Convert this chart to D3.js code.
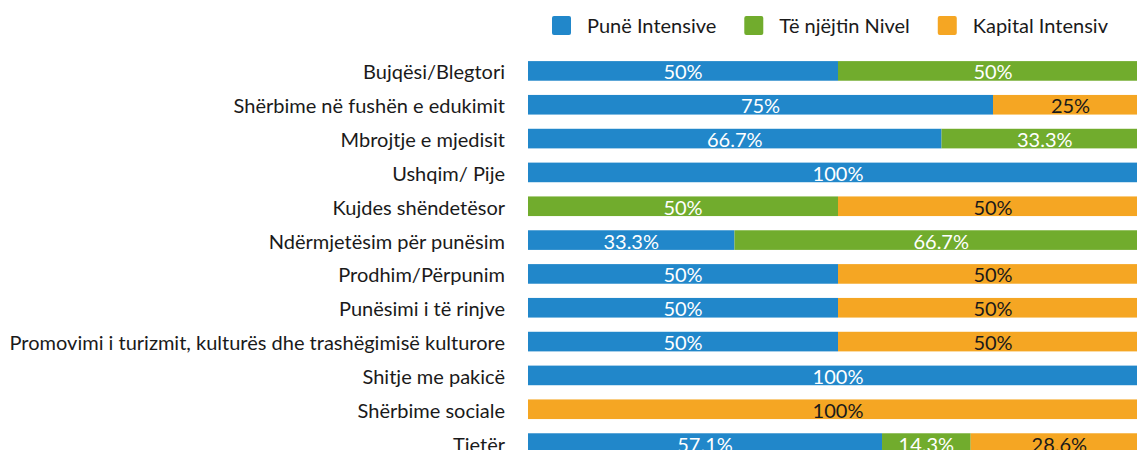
<!DOCTYPE html>
<html>
<head>
<meta charset="utf-8">
<script src="https://cdn.jsdelivr.net/npm/d3@7"></script>
<style>
  html, body { margin: 0; padding: 0; background: #fff; }
  svg { display: block; font-family: Lato, "Open Sans", sans-serif; }
</style>
</head>
<body>
<svg id="chart" width="1137" height="450"></svg>
<script>
const categories = [
  "Bujqësi/Blegtori",
  "Shërbime në fushën e edukimit",
  "Mbrojtje e mjedisit",
  "Ushqim/ Pije",
  "Kujdes shëndetësor",
  "Ndërmjetësim për punësim",
  "Prodhim/Përpunim",
  "Punësimi i të rinjve",
  "Promovimi i turizmit, kulturës dhe trashëgimisë kulturore",
  "Shitje me pakicë",
  "Shërbime sociale",
  "Tjetër"
];
const seriesNames = ["Punë Intensive", "Të njëjtin Nivel", "Kapital Intensiv"];
const puneIntensive   = [50, 75, 66.7, 100, 0, 33.3, 50, 50, 50, 100, 0, 57.1];
const njejtinNivel    = [50, 0, 33.3, 0, 50, 66.7, 0, 0, 0, 0, 0, 14.3];
const kapitalIntensiv = [0, 25, 0, 0, 50, 0, 50, 50, 50, 0, 100, 28.6];
const seriesValues = [puneIntensive, njejtinNivel, kapitalIntensiv];
const colors = ["#2187ca", "#71ac2d", "#f5a623"];
const labelColors = ["#ffffff", "#ffffff", "#1a1a1a"];
const FS = 20;

const svg = d3.select("#chart");

const x = d3.scaleLinear().domain([0, 100]).range([528, 1148]);
const y = d3.scaleBand().domain(categories).range([54, 460])
  .paddingInner(0.42).paddingOuter(0.21);

const rows = categories.map((c, i) => {
  let acc = 0;
  return seriesValues.map((vals, s) => {
    const seg = { cat: c, s, v: vals[i], x0: acc, x1: acc + vals[i] };
    acc += vals[i];
    return seg;
  }).filter(d => d.v > 0);
}).flat();

// bars
svg.append("g").selectAll("rect").data(rows).join("rect")
  .attr("x", d => x(d.x0))
  .attr("y", d => y(d.cat))
  .attr("width", d => x(d.x1) - x(d.x0))
  .attr("height", y.bandwidth())
  .attr("fill", d => colors[d.s]);

// value labels
svg.append("g").selectAll("text").data(rows).join("text")
  .attr("x", d => (x(d.x0) + x(d.x1)) / 2)
  .attr("y", d => y(d.cat) + y.bandwidth() / 2 + 8.5)
  .attr("text-anchor", "middle")
  .attr("font-size", FS)
  .attr("fill", d => labelColors[d.s])
  .text(d => d.v + "%");

// category axis labels
const yAxis = d3.axisLeft(y).tickSize(0).tickPadding(0);
const ga = svg.append("g").attr("transform", "translate(505,0)").call(yAxis);
ga.select(".domain").remove();
ga.selectAll("text")
  .attr("font-size", FS)
  .attr("font-family", "Lato, 'Open Sans', sans-serif")
  .attr("fill", "#1a1a1a")
  .attr("dy", null)
  .attr("y", 8.5);

// legend
const legend = svg.append("g");
let lx = 552;
seriesNames.forEach((name, i) => {
  const g = legend.append("g").attr("transform", `translate(${lx},0)`);
  g.append("rect").attr("x", 0).attr("y", 16).attr("width", 19).attr("height", 19)
    .attr("rx", 2).attr("fill", colors[i]);
  const t = g.append("text").attr("x", 35).attr("y", 33)
    .attr("font-size", FS).attr("fill", "#1a1a1a").text(name);
  lx += 35 + t.node().getComputedTextLength() + 28;
});
</script>
</body>
</html>
